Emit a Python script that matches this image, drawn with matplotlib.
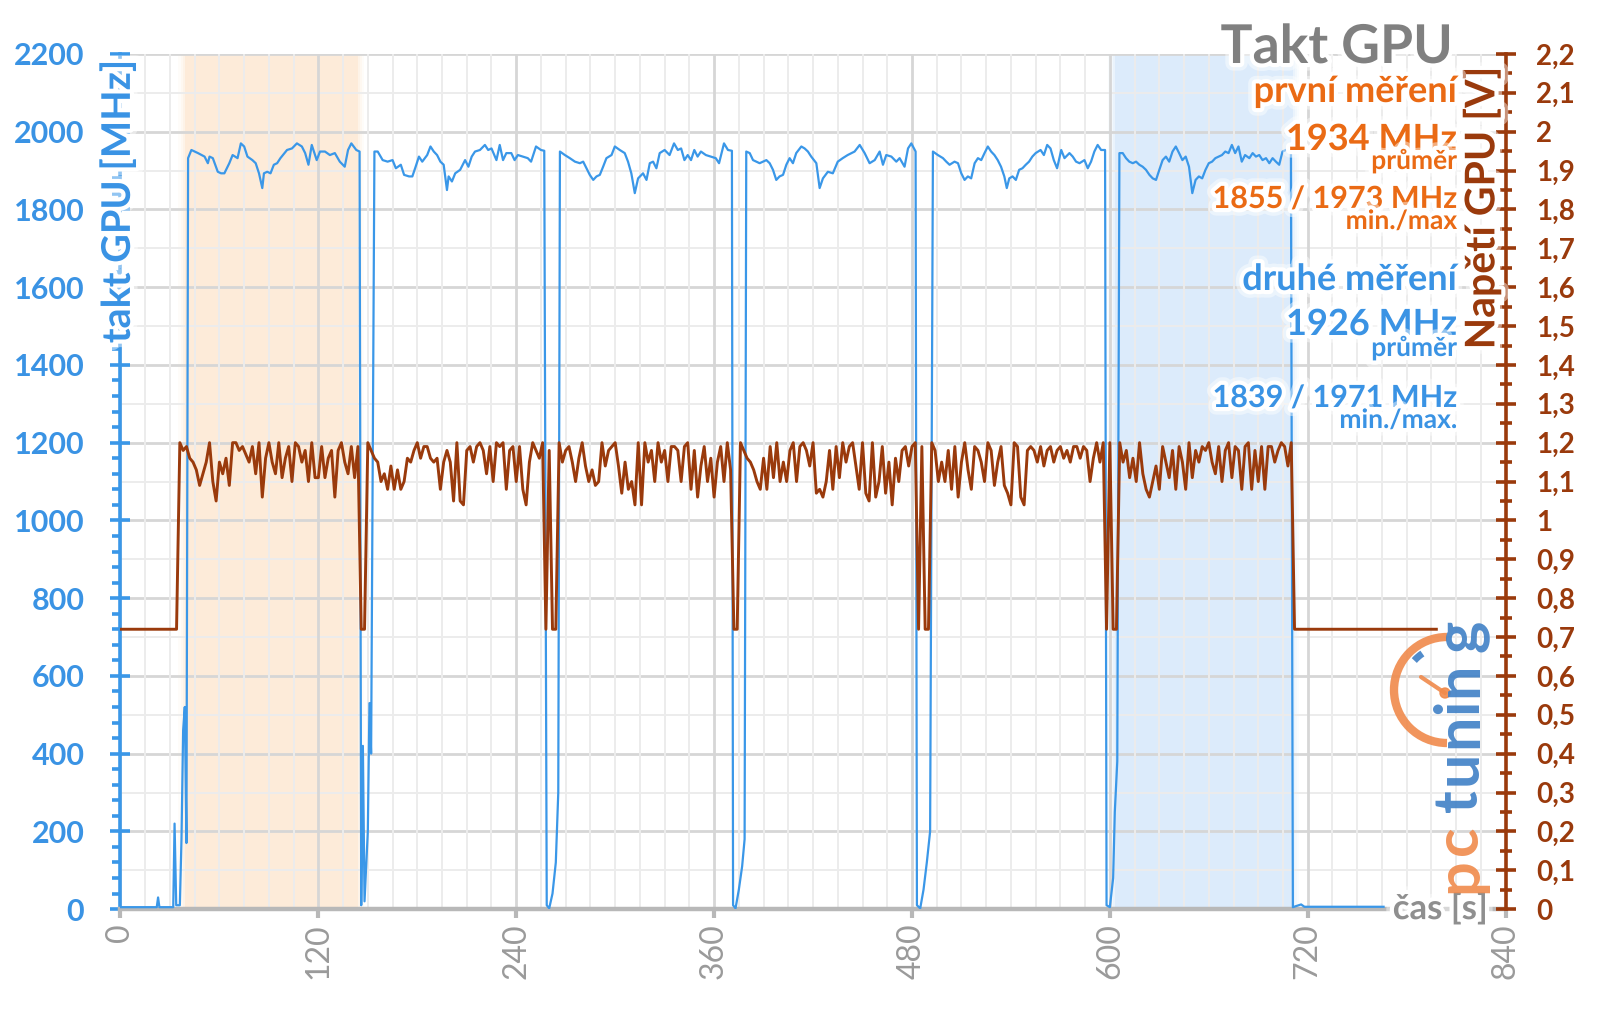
import numpy as np
import matplotlib
matplotlib.use("Agg")
import matplotlib.pyplot as plt
import matplotlib.patheffects as pe
from matplotlib.ticker import MultipleLocator
from matplotlib.patches import Arc, Circle

plt.rcParams['font.family'] = ['Lato', 'DejaVu Sans']

# ---------------- data ----------------
x_ticks = [0, 120, 240, 360, 480, 600, 720, 840]
clk_ticks = [0, 200, 400, 600, 800, 1000, 1200, 1400, 1600, 1800, 2000, 2200]
volt_ticks = [0.0, 0.1, 0.2, 0.3, 0.4, 0.5, 0.6, 0.7, 0.8, 0.9, 1.0, 1.1,
              1.2, 1.3, 1.4, 1.5, 1.6, 1.7, 1.8, 1.9, 2.0, 2.1, 2.2]

# GPU clock [MHz] vs time [s]
pre_t = [0, 22, 22.8, 23.6, 32, 32.8, 33.8, 36, 37, 38, 39, 40]
pre_mhz = [5, 5, 30, 5, 5, 220, 10, 10, 180, 460, 520, 170]
run1_t = [41, 43, 47, 51, 53, 54, 56, 59, 61, 63, 66, 68, 71, 73, 75, 77, 80, 82, 84, 86,
          87, 89, 91, 93, 95, 97, 101, 104, 107, 110, 112, 114, 116, 119, 121, 124, 127,
          130, 133, 136, 138, 140, 143, 145]
run1_mhz = [1932, 1953, 1945, 1936, 1919, 1936, 1932, 1897, 1893, 1893, 1919, 1940, 1932,
            1970, 1962, 1936, 1927, 1919, 1893, 1855, 1893, 1897, 1893, 1915, 1919, 1932,
            1953, 1957, 1970, 1962, 1945, 1915, 1966, 1927, 1949, 1949, 1940, 1945, 1923,
            1910, 1953, 1970, 1953, 1949]
gap1_t = [146, 147, 148, 150, 151, 152]
gap1_mhz = [10, 420, 20, 200, 530, 400]
run2_t = [154, 156, 159, 162, 165, 167, 170, 172, 175, 177, 179, 181, 183, 186, 188, 190,
          192, 194, 196, 198, 199, 201, 203, 206, 209, 211, 213, 215, 218, 221, 223, 225,
          228, 230, 232, 234, 237, 239, 241, 244, 247, 249, 252, 255, 257]
run2_mhz = [1949, 1949, 1927, 1923, 1927, 1906, 1915, 1889, 1885, 1885, 1910, 1936, 1923,
            1940, 1962, 1949, 1940, 1923, 1915, 1850, 1885, 1872, 1893, 1902, 1927, 1910,
            1936, 1949, 1953, 1966, 1953, 1957, 1927, 1966, 1927, 1945, 1945, 1927, 1940,
            1936, 1932, 1923, 1962, 1953, 1951]
gap2_t = [258.5, 260, 262, 264, 265.5]
gap2_mhz = [10, 2, 40, 120, 300]
run3_t = [266.5, 269.5, 272.5, 275.6, 278.6, 280.6, 282.6, 284.6, 286.7, 288.7, 290.7,
          292.7, 294.7, 297.8, 299.8, 302.8, 305.8, 307.8, 309.8, 311.9, 313.9, 316.9, 319,
          321, 323, 325, 327, 330, 333, 335.7, 338, 340, 342, 344, 346, 348, 350, 352, 355,
          358, 361, 363, 366, 368.4, 370.8]
run3_mhz = [1949, 1940, 1932, 1923, 1919, 1923, 1906, 1889, 1876, 1885, 1889, 1910, 1932,
            1940, 1962, 1953, 1945, 1923, 1893, 1842, 1880, 1893, 1876, 1919, 1923, 1906,
            1945, 1953, 1940, 1970, 1953, 1957, 1927, 1940, 1927, 1953, 1936, 1949, 1940,
            1936, 1932, 1919, 1970, 1953, 1951]
gap3_t = [371.5, 373, 375, 377, 378.5]
gap3_mhz = [10, 2, 50, 110, 180]
run4_t = [379.5, 381.6, 383.6, 385.6, 387.6, 389.6, 391.7, 393.7, 395.7, 397.7, 399.7,
          401.8, 403.8, 405.8, 407.8, 409.8, 412.9, 414.9, 416.9, 418.9, 422, 424, 426, 429,
          432, 435, 438, 441, 445.2, 448.3, 451.3, 454.3, 457.4, 460.4, 462.4, 464.4, 467.5,
          470.5, 472.5, 475.5, 477.6, 479.6, 482.2]
run4_mhz = [1949, 1945, 1927, 1923, 1919, 1923, 1927, 1919, 1902, 1876, 1885, 1889, 1915,
            1932, 1919, 1945, 1962, 1957, 1949, 1936, 1919, 1855, 1880, 1897, 1893, 1923,
            1932, 1940, 1949, 1966, 1945, 1919, 1927, 1949, 1915, 1940, 1936, 1923, 1932,
            1910, 1957, 1970, 1949]
gap4_t = [483, 485, 487, 489, 491]
gap4_mhz = [10, 2, 50, 120, 200]
run5_t = [492.7, 495.7, 498.8, 500.8, 502.8, 505.8, 507.9, 509.9, 511.9, 513.9, 515.9, 518,
          520, 522, 524, 526, 528, 530, 532, 534, 536, 537.5, 539, 541, 543, 545, 547, 549,
          551, 553, 555, 558, 560, 562, 564, 566, 568, 570.5, 572.5, 575.5, 577.5, 579.5,
          581.6, 584.6, 586.6, 588.6, 590.6, 592.6, 594.7, 597.1]
run5_mhz = [1949, 1940, 1932, 1923, 1915, 1923, 1919, 1893, 1876, 1885, 1880, 1919, 1932,
            1927, 1945, 1962, 1949, 1940, 1927, 1910, 1885, 1855, 1880, 1885, 1876, 1902,
            1906, 1915, 1923, 1936, 1945, 1953, 1940, 1966, 1957, 1927, 1906, 1953, 1932,
            1945, 1936, 1923, 1919, 1927, 1906, 1923, 1949, 1966, 1953, 1953]
gap5_t = [598, 600, 602, 603, 604.5]
gap5_mhz = [10, 5, 80, 250, 380]
run6_t = [605.8, 607.8, 609.8, 611.8, 613.9, 615.9, 617.9, 619.9, 621.9, 624, 626, 628, 630,
          632, 634, 636, 638, 640, 642, 644, 646, 648, 650, 652, 654, 656, 658, 660, 662, 664,
          666, 668, 670, 672, 674, 676, 678, 680, 682, 684.6, 686.6, 688.6, 690.6, 692.6,
          694.7, 696.7, 698.7, 700.7, 702.7, 704.7, 707.8, 709.8]
run6_mhz = [1945, 1945, 1932, 1923, 1919, 1923, 1915, 1910, 1902, 1889, 1880, 1876, 1902,
            1927, 1936, 1923, 1949, 1962, 1945, 1927, 1936, 1910, 1842, 1876, 1885, 1880,
            1902, 1919, 1923, 1932, 1936, 1940, 1949, 1945, 1966, 1945, 1962, 1923, 1940,
            1932, 1945, 1936, 1940, 1927, 1932, 1919, 1932, 1923, 1915, 1949, 1955, 1955]
post_t = [711, 716, 718, 766]
post_mhz = [5, 12, 6, 6]

# GPU voltage [V], one reading every 2 s from 0 to 798 s
volt_step = 2
volt_idle_a = [0.72] * 18
volt_run1 = [1.20, 1.18, 1.19, 1.16, 1.15, 1.13, 1.09, 1.12, 1.15, 1.20,
             1.10, 1.05, 1.15, 1.12, 1.16, 1.09, 1.20, 1.20, 1.18, 1.19,
             1.17, 1.15, 1.19, 1.12, 1.20, 1.06, 1.16, 1.20, 1.15, 1.12,
             1.20, 1.11, 1.16, 1.19, 1.10, 1.20, 1.19, 1.15, 1.18, 1.10,
             1.20, 1.11, 1.11, 1.19, 1.11, 1.16, 1.18, 1.06, 1.18, 1.20,
             1.15, 1.12, 1.19, 1.11, 1.19]
volt_gap1 = [0.72, 0.72]
volt_run2 = [1.20, 1.18, 1.16, 1.15, 1.10, 1.12, 1.08, 1.14, 1.08, 1.13,
             1.08, 1.10, 1.16, 1.15, 1.18, 1.20, 1.16, 1.19, 1.19, 1.16,
             1.15, 1.16, 1.08, 1.15, 1.18, 1.15, 1.05, 1.20, 1.05, 1.04,
             1.18, 1.19, 1.15, 1.19, 1.20, 1.18, 1.12, 1.19, 1.10, 1.20,
             1.19, 1.20, 1.08, 1.18, 1.19, 1.10, 1.19, 1.08, 1.04, 1.15,
             1.20, 1.18, 1.16, 1.20]
volt_gap2 = [0.72, 1.18, 0.72, 0.72]
volt_run3 = [1.20, 1.15, 1.18, 1.19, 1.15, 1.10, 1.16, 1.20, 1.14, 1.10,
             1.13, 1.09, 1.10, 1.20, 1.14, 1.18, 1.19, 1.20, 1.14, 1.07,
             1.15, 1.08, 1.10, 1.04, 1.20, 1.04, 1.20, 1.15, 1.18, 1.10,
             1.20, 1.15, 1.18, 1.10, 1.19, 1.19, 1.18, 1.10, 1.19, 1.20,
             1.08, 1.18, 1.06, 1.14, 1.19, 1.10, 1.16, 1.06, 1.15, 1.19,
             1.10, 1.20, 1.13]
volt_gap3 = [0.72, 0.72]
volt_run4 = [1.20, 1.18, 1.16, 1.15, 1.13, 1.10, 1.08, 1.16, 1.08, 1.19,
             1.11, 1.20, 1.10, 1.15, 1.10, 1.18, 1.20, 1.10, 1.19, 1.20,
             1.18, 1.14, 1.20, 1.07, 1.08, 1.06, 1.10, 1.18, 1.08, 1.19,
             1.11, 1.20, 1.15, 1.19, 1.20, 1.14, 1.08, 1.20, 1.07, 1.05,
             1.20, 1.06, 1.10, 1.19, 1.07, 1.15, 1.04, 1.16, 1.10, 1.18,
             1.19, 1.14, 1.19, 1.20]
volt_gap4 = [0.72, 1.19, 0.72, 0.72]
volt_run5 = [1.20, 1.18, 1.10, 1.15, 1.10, 1.18, 1.08, 1.19, 1.06, 1.15,
             1.20, 1.13, 1.08, 1.19, 1.18, 1.15, 1.10, 1.20, 1.18, 1.09,
             1.15, 1.19, 1.09, 1.07, 1.04, 1.20, 1.19, 1.06, 1.04, 1.18,
             1.19, 1.18, 1.15, 1.19, 1.14, 1.18, 1.19, 1.15, 1.18, 1.19,
             1.16, 1.18, 1.15, 1.19, 1.19, 1.16, 1.19, 1.18, 1.10, 1.16,
             1.20, 1.15, 1.20]
volt_gap5 = [0.72, 1.20, 0.72, 0.72]
volt_run6 = [1.20, 1.15, 1.18, 1.11, 1.16, 1.10, 1.20, 1.12, 1.08, 1.06,
             1.10, 1.14, 1.08, 1.19, 1.15, 1.11, 1.18, 1.08, 1.19, 1.15,
             1.08, 1.20, 1.11, 1.18, 1.15, 1.19, 1.18, 1.20, 1.15, 1.12,
             1.19, 1.10, 1.18, 1.20, 1.11, 1.19, 1.18, 1.08, 1.19, 1.20,
             1.08, 1.18, 1.10, 1.19, 1.08, 1.19, 1.19, 1.15, 1.18, 1.20,
             1.19, 1.14, 1.20]
volt_idle_b = [0.72] * 44

# shaded measurement windows [s]
first_window = (39, 144)
second_window = (603, 711)

# ---------------- assemble series ----------------
clk_t = (pre_t + run1_t + gap1_t + run2_t + gap2_t + run3_t + gap3_t + run4_t + gap4_t
         + run5_t + gap5_t + run6_t + post_t)
clk_mhz = (pre_mhz + run1_mhz + gap1_mhz + run2_mhz + gap2_mhz + run3_mhz + gap3_mhz
           + run4_mhz + gap4_mhz + run5_mhz + gap5_mhz + run6_mhz + post_mhz)
volt = (volt_idle_a + volt_run1 + volt_gap1 + volt_run2 + volt_gap2 + volt_run3 + volt_gap3
        + volt_run4 + volt_gap4 + volt_run5 + volt_gap5 + volt_run6 + volt_idle_b)
volt_t = np.arange(len(volt)) * volt_step

# ---------------- style ----------------
BLUE = '#3a97e8'
BLUE_TXT = '#3a93e4'
ORANGE_TXT = '#ea6a14'
BROWN = '#9a3a0c'
GRAY_TXT = '#808080'

fig = plt.figure(figsize=(16, 10.09), dpi=100)
ax = fig.add_axes([0.0753, 0.099, 0.8657, 0.8475])
ax.set_xlim(0, 840)
ax.set_ylim(0, 2200)

# shaded windows with soft edges
for (a, b), col in ((first_window, '#fdebd9'), (second_window, '#dcebfb')):
    ax.axvspan(a, b, color=col, lw=0, zorder=0.1)
    for k, al in enumerate([0.6, 0.35, 0.15]):
        w = 1.3
        ax.axvspan(a - w * (k + 1), a - w * k, color=col, alpha=al, lw=0, zorder=0.1)
        ax.axvspan(b + w * k, b + w * (k + 1), color=col, alpha=al, lw=0, zorder=0.1)

# grid
for v in range(0, 2201, 100):
    major = (v % 200 == 0)
    ax.axhline(v, color='#d6d6d6' if major else '#ececec', lw=2.0 if major else 1.4, zorder=0.3)
for s in range(0, 841, 15):
    major = (s % 120 == 0)
    ax.axvline(s, color='#d6d6d6' if major else '#ececec', lw=2.0 if major else 1.4, zorder=0.3)

ax.plot(clk_t, clk_mhz, color=BLUE, lw=1.6, zorder=3)

for sp in ('top', 'right'):
    ax.spines[sp].set_visible(False)
ax.spines['left'].set_color(BLUE)
ax.spines['left'].set_linewidth(2.6)
ax.spines['bottom'].set_color('#b8b8b8')
ax.spines['bottom'].set_linewidth(3.2)

ax.set_xticks(x_ticks)
ax.set_xticklabels([str(v) for v in x_ticks], rotation=90, color='#9a9a9a', fontsize=23)
ax.tick_params(axis='x', direction='out', length=6.5, width=3, color='#b8b8b8', pad=3.5)

ax.set_yticks(clk_ticks)
ax.set_yticklabels([str(v) for v in clk_ticks], color=BLUE_TXT, fontsize=22, fontweight='bold')
ax.yaxis.set_minor_locator(MultipleLocator(40))
ax.tick_params(axis='y', which='major', direction='inout', length=14, width=2.6, color=BLUE, pad=19)
ax.tick_params(axis='y', which='minor', direction='out', length=6, width=2.6, color=BLUE)

ax2 = ax.twinx()
ax2.set_ylim(0, 2.2)
ax2.plot(volt_t, volt, color=BROWN, lw=2.1, zorder=3)
for sp in ('top', 'left', 'bottom'):
    ax2.spines[sp].set_visible(False)
ax2.spines['right'].set_color(BROWN)
ax2.spines['right'].set_linewidth(2.6)


def vfmt(v):
    s = f"{v:.1f}".rstrip('0').rstrip('.')
    return s.replace('.', ',')


ax2.set_yticks(volt_ticks)
ax2.set_yticklabels([vfmt(v) for v in volt_ticks], color=BROWN, fontsize=20, fontweight='bold')
ax2.yaxis.set_minor_locator(MultipleLocator(0.05))
ax2.tick_params(axis='y', which='major', direction='inout', length=14, width=2.6, color=BROWN, pad=15)
ax2.tick_params(axis='y', which='minor', direction='inout', length=8, width=2.6, color=BROWN)

# ---------------- overlay annotations (pixel coordinates) ----------------
ov = fig.add_axes([0, 0, 1, 1])
ov.set_zorder(10)
ov.set_xlim(0, 1600)
ov.set_ylim(1009, 0)
ov.axis('off')

glow = [pe.Stroke(linewidth=11, foreground='white', alpha=0.45),
        pe.Stroke(linewidth=6, foreground='white'), pe.Normal()]

ov.text(118, 201, 'takt GPU [MHz]', rotation=90, ha='center', va='center', color=BLUE_TXT,
        fontsize=28.5, fontweight='bold', path_effects=glow)
ov.text(1482, 208, 'Napětí GPU [V]', rotation=90, ha='center', va='center', color=BROWN,
        fontsize=29.5, fontweight='bold', path_effects=glow)

RX = 1457
texts = [
    ('Takt GPU', 1453, 63, 38.5, GRAY_TXT),
    ('první měření', RX, 102, 26, ORANGE_TXT),
    ('1934 MHz', RX, 150, 26, ORANGE_TXT),
    ('průměr', RX, 169, 19, ORANGE_TXT),
    ('1855 / 1973 MHz', RX, 208, 22, ORANGE_TXT),
    ('min./max', RX, 229, 19, ORANGE_TXT),
    ('druhé měření', RX, 290, 26, BLUE_TXT),
    ('1926 MHz', RX, 335, 26, BLUE_TXT),
    ('průměr', RX, 356, 19, BLUE_TXT),
    ('1839 / 1971 MHz', RX, 407, 22, BLUE_TXT),
    ('min./max.', RX, 428, 19, BLUE_TXT),
]
for s, x, y, fs, c in texts:
    ov.text(x, y, s, ha='right', va='baseline', color=c, fontsize=fs, fontweight='bold',
            path_effects=glow)

ov.text(1488, 909, 'čas [s]', ha='right', va='center', color='#8f8f8f', fontsize=25,
        fontweight='bold', path_effects=glow)

# pctuning logo
LOGO_OR = '#f08a4b'
LOGO_BL = '#3f80c6'
ov.add_patch(Arc((1447, 690), 106, 106, theta1=90, theta2=270, lw=6, color=LOGO_OR, alpha=0.9))
ov.add_patch(Arc((1447, 690), 88, 88, theta1=222, theta2=236, lw=5, color=LOGO_BL, alpha=0.9))
ov.plot([1421, 1445], [677, 693], color=LOGO_OR, lw=3, alpha=0.9, solid_capstyle='round')
ov.add_patch(Circle((1445, 693), 5, color=LOGO_OR, alpha=0.9))
letters = [('p', 876, LOGO_OR), ('c', 840, LOGO_OR), ('t', 801, LOGO_BL), ('u', 768, LOGO_BL),
           ('n', 731, LOGO_BL), ('i', 706, LOGO_BL), ('n', 680, LOGO_BL), ('g', 636, LOGO_BL)]
for ch, y, c in letters:
    ov.text(1477, y, ch, rotation=90, rotation_mode='anchor', ha='center', va='baseline',
            color=c, fontsize=44, fontweight='bold', alpha=0.9)

fig.savefig('out.png', dpi=100)
